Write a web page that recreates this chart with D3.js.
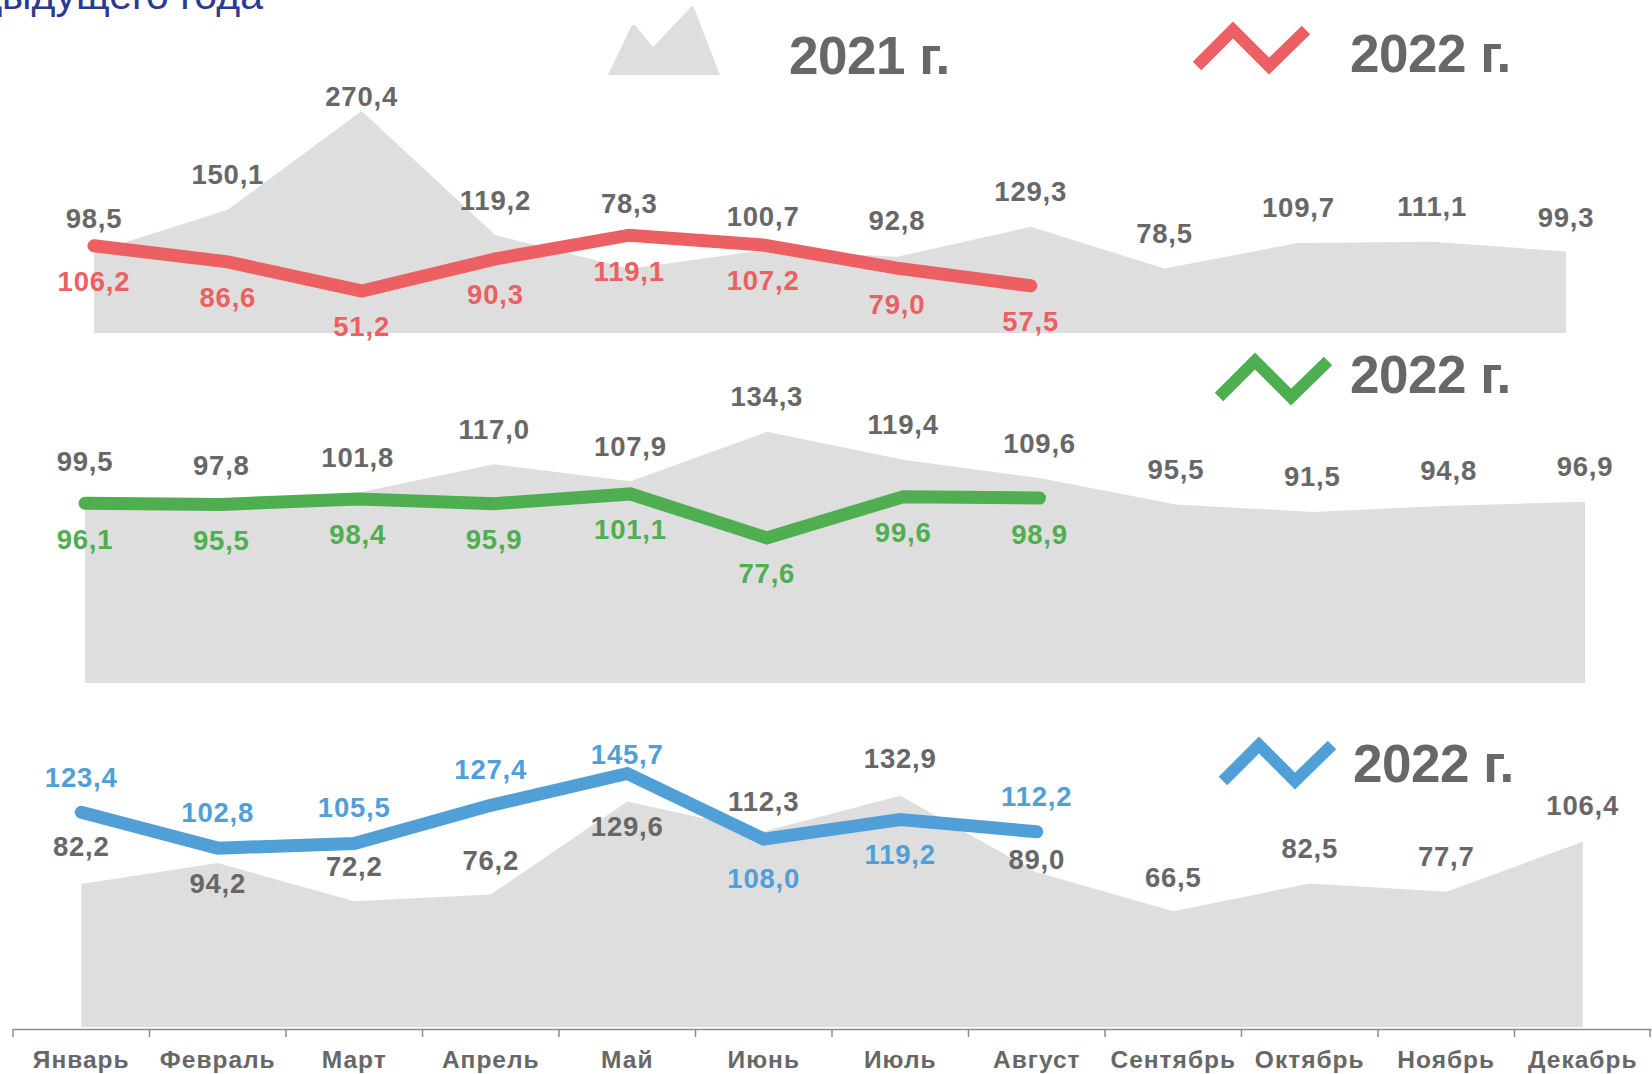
<!DOCTYPE html>
<html>
<head>
<meta charset="utf-8">
<script src="https://cdn.jsdelivr.net/npm/d3@7"></script>
<style>
  html, body { margin: 0; padding: 0; background: #ffffff; overflow: hidden; }
  svg { display: block; }
  text { font-family: "Liberation Sans", Arial, sans-serif; }
</style>
</head>
<body>
<svg id="chart" width="1652" height="1074"></svg>
<script>
// ---------- data ----------
const months = ["Январь","Февраль","Март","Апрель","Май","Июнь","Июль","Август","Сентябрь","Октябрь","Ноябрь","Декабрь"];

const topPrev   = [98.5,150.1,270.4,119.2,78.3,100.7,92.8,129.3,78.5,109.7,111.1,99.3];
const topCur    = [106.2,86.6,51.2,90.3,119.1,107.2,79.0,57.5];

const midPrev   = [99.5,97.8,101.8,117.0,107.9,134.3,119.4,109.6,95.5,91.5,94.8,96.9];
const midCur    = [96.1,95.5,98.4,95.9,101.1,77.6,99.6,98.9];

const botPrev   = [82.2,94.2,72.2,76.2,129.6,112.3,132.9,89.0,66.5,82.5,77.7,106.4];
const botCur    = [123.4,102.8,105.5,127.4,145.7,108.0,119.2,112.2];

const prevLabel = "2021 г.";
const curLabel  = "2022 г.";

// ---------- layout (label offsets, px) ----------
const topPrevDy = [-34,-35,-15,-35,-65,-34,-36,-35,-35,-35,-35,-34];
const midPrevDy = [-35,-35,-35,-35,-35,-35,-35,-35,-35,-35,-35,-35];
const botPrevDy = [-37,20,-35,-34,25,-30,-37,-13,-34,-35,-35,-36];
const topCurDy  = [36,36,36,36,36,36,36,36];
const midCurDy  = [36,36,36,36,36,36,36,36];
const botCurDy  = [-35,-36,-36,-36,-19,39,35,-35];

// ---------- styles ----------
const AREA = "#dedede";
const GRAY = "#676767";
const RED = "#ec5f62";
const GREEN = "#4eae50";
const BLUE = "#519fd7";

const svg = d3.select("#chart");
const fmt = v => d3.format(".1f")(v).replace(".", ",");

// scales
const xTop = d3.scalePoint().domain(months).range([94, 1566]);
const xMid = d3.scalePoint().domain(months).range([85, 1585]);
const xBand = d3.scaleBand().domain(months).range([13, 1651]).paddingInner(0).paddingOuter(0);
const xBot = m => xBand(m) + xBand.bandwidth() / 2;

const yTop = d3.scaleLinear().domain([0, 300]).range([333, 333 - 300 * 0.821]);
const yMid = d3.scaleLinear().domain([0, 150]).range([683, 683 - 150 * 1.87]);
const yBot = d3.scaleLinear().domain([0, 150]).range([1027, 1027 - 150 * 1.74]);

// top-left cut title line
svg.append("text")
  .attr("x", 263).attr("y", 9)
  .attr("text-anchor", "end")
  .attr("font-size", 41)
  .attr("fill", "#2a3a8f")
  .text("периоду предыдущего года");

function panel(x, y, prev, cur, prevDy, curDy, color) {
  const g = svg.append("g");
  const area = d3.area()
    .x((d, i) => x(months[i]))
    .y0(y(0))
    .y1(d => y(d));
  g.append("path").datum(prev)
    .attr("d", area)
    .attr("fill", AREA);

  g.selectAll("text.prev").data(prev).join("text")
    .attr("class", "prev")
    .attr("x", (d, i) => x(months[i]))
    .attr("y", (d, i) => y(d) + prevDy[i])
    .attr("text-anchor", "middle")
    .attr("dominant-baseline", "central")
    .attr("font-size", 27.5)
    .attr("font-weight", "bold")
    .attr("letter-spacing", 0.8)
    .attr("fill", GRAY)
    .text(d => fmt(d));

  const line = d3.line()
    .x((d, i) => x(months[i]))
    .y(d => y(d));
  g.append("path").datum(cur)
    .attr("d", line)
    .attr("fill", "none")
    .attr("stroke", color)
    .attr("stroke-width", 13)
    .attr("stroke-linecap", "round")
    .attr("stroke-linejoin", "miter");

  g.selectAll("text.cur").data(cur).join("text")
    .attr("class", "cur")
    .attr("x", (d, i) => x(months[i]))
    .attr("y", (d, i) => y(d) + curDy[i])
    .attr("text-anchor", "middle")
    .attr("dominant-baseline", "central")
    .attr("font-size", 27.5)
    .attr("font-weight", "bold")
    .attr("letter-spacing", 0.8)
    .attr("fill", color)
    .text(d => fmt(d));
}

panel(xTop, yTop, topPrev, topCur, topPrevDy, topCurDy, RED);
panel(xMid, yMid, midPrev, midCur, midPrevDy, midCurDy, GREEN);
panel(xBot, yBot, botPrev, botCur, botPrevDy, botCurDy, BLUE);

// ---------- legends ----------
function bigLabel(x, y, t) {
  svg.append("text")
    .attr("x", x).attr("y", y)
    .attr("font-size", 53)
    .attr("font-weight", "bold")
    .attr("letter-spacing", -0.5)
    .attr("fill", GRAY)
    .text(t);
}
// 2021 mountain icon
svg.append("path")
  .attr("d", "M608,75 L632,25 L635,25 L653,47 L692,6 L694,8 L720,75 Z")
  .attr("fill", AREA);
bigLabel(789, 74, prevLabel);

function zig(x0, yb, color) {
  // zigzag icon: x0 left, yb bottom
  const h = 36, w = 36;
  svg.append("path")
    .attr("d", `M${x0},${yb} L${x0 + w},${yb - h} L${x0 + 2 * w},${yb} L${x0 + 3 * w + 1},${yb - h}`)
    .attr("fill", "none")
    .attr("stroke", color)
    .attr("stroke-width", 12)
    .attr("stroke-linejoin", "miter")
    .attr("stroke-linecap", "butt");
}
zig(1197, 66, RED);
bigLabel(1350, 72, curLabel);
zig(1219, 397, GREEN);
bigLabel(1350, 393, curLabel);
zig(1223, 781, BLUE);
bigLabel(1353, 782, curLabel);

// ---------- axis ----------
const axisY = 1029;
const axisG = svg.append("g").attr("transform", `translate(0,${axisY})`)
  .call(d3.axisBottom(xBand).tickSize(0).tickSizeOuter(0).tickPadding(0));
axisG.select(".domain").attr("stroke", "#8c8c8c").attr("stroke-width", 1.5);
axisG.selectAll(".tick text")
  .attr("y", 39)
  .attr("dy", 0)
  .attr("font-family", "Liberation Sans, Arial, sans-serif")
  .attr("font-size", 24.5)
  .attr("font-weight", "bold")
  .attr("letter-spacing", 1)
  .attr("fill", GRAY);
const bounds = months.map(m => xBand(m)).concat([xBand.range()[1] - 1]);
axisG.selectAll("line.bound").data(bounds).join("line")
  .attr("class", "bound")
  .attr("x1", d => d).attr("x2", d => d)
  .attr("y1", 0).attr("y2", 8)
  .attr("stroke", "#8c8c8c")
  .attr("stroke-width", 1.5);
</script>
</body>
</html>
